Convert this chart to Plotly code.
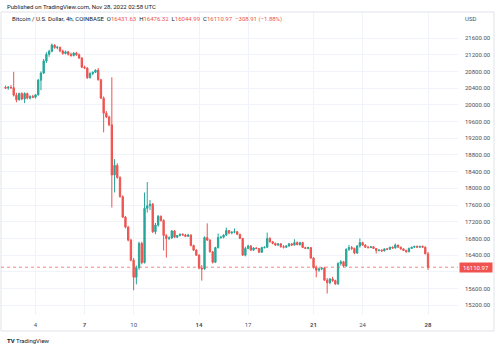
import pandas as pd
import plotly.graph_objects as go

# ---- data (BTC/USD 4h candles, Coinbase, Nov 2022) ----
first_candle = "2022-11-02 04:00"
opens = [20420,20400,20420,20410,20230,20120,20270,20140,20270,20160,20200,20180,20240,20590,20760,21050,21210,21280,21430,21370,
         21380,21290,21230,21270,21210,21180,21240,21200,21120,20900,20880,20650,20750,20780,20830,20600,20160,19800,19710,19520,
         18320,18550,18260,17800,17310,17070,16760,16280,15870,16100,16680,16220,17520,17580,17620,16960,17120,17330,17230,16870,
         16800,16810,16980,16830,16870,16900,16880,16850,16880,16630,16520,16400,16090,16070,16820,16760,16480,16230,16580,16820,
         16830,16880,16990,16930,16950,16960,16900,16800,16400,16560,16620,16520,16570,16560,16470,16580,16590,16800,16720,16680,
         16640,16670,16600,16590,16620,16670,16640,16700,16650,16700,16580,16560,16580,16330,16100,16040,16070,16090,15800,15740,
         15830,15790,15710,16200,16240,16140,16540,16580,16560,16450,16620,16700,16640,16590,16580,16600,16560,16510,16520,16500,
         16550,16540,16590,16570,16640,16590,16550,16510,16480,16560,16590,16610,16590,16610,16590,16431.63]
highs = [20460,20450,20470,20790,20290,20290,20300,20300,20290,20230,20240,20260,20620,20800,21100,21260,21320,21470,21450,21410,
         21390,21320,21300,21290,21250,21260,21270,21230,21140,20940,20900,20780,20800,20850,20880,20620,20200,19850,19740,20660,
         18700,18600,18290,17830,17340,17100,16790,16330,16150,16720,16720,17900,18150,17720,17650,17170,17360,17350,17260,16900,
         16850,17000,17000,16880,16920,16920,16910,16910,16900,16650,16540,16420,16160,16850,17160,16780,16500,16600,16920,16860,
         16900,17060,17000,16970,17040,16980,16910,16810,16600,16650,16640,16590,16590,16570,16600,16610,16940,16830,16740,16700,
         16680,16690,16640,16630,16690,16680,16780,16730,16720,16720,16600,16600,16590,16350,16150,16100,16110,16120,15850,15850,
         15880,15810,16230,16280,16260,16560,16640,16620,16580,16640,16800,16720,16660,16620,16620,16610,16570,16540,16540,16560,
         16570,16600,16610,16680,16650,16600,16560,16530,16580,16600,16620,16630,16620,16630,16610,16476.32]
lows = [20380,20360,20380,20200,20060,20100,20110,20040,20130,20130,20160,20150,20220,20350,20740,21000,21150,21260,21340,21330,
        21260,21200,21210,21180,21150,21160,21170,21100,20880,20860,20620,20630,20710,20760,20580,20140,19340,19680,19490,17540,
        17900,18230,17780,17290,17040,16730,16250,15560,15700,16050,16180,16200,17420,17480,16930,16900,17080,17200,16510,16340,
        16760,16790,16810,16810,16850,16870,16830,16840,16610,16500,16380,16060,15790,16050,16740,16460,16200,16210,16560,16790,
        16800,16860,16900,16900,16920,16880,16790,16380,16370,16540,16500,16500,16540,16450,16450,16560,16570,16700,16660,16620,
        16620,16580,16560,16570,16600,16620,16630,16640,16630,16570,16550,16540,16310,16080,15870,16000,16040,15780,15480,15700,
        15760,15690,15690,16150,16110,16120,16500,16520,16420,16430,16580,16620,16570,16560,16570,16550,16440,16490,16480,16490,
        16520,16530,16550,16560,16580,16530,16500,16460,16470,16550,16570,16580,16580,16580,16420,16044.99]
closes = [20400,20420,20410,20230,20120,20270,20140,20270,20160,20200,20180,20240,20590,20760,21050,21210,21280,21430,21370,21380,
          21290,21230,21270,21210,21180,21240,21200,21120,20900,20880,20650,20750,20780,20830,20600,20160,19800,19710,19520,18320,
          18550,18260,17800,17310,17070,16760,16280,15870,16100,16680,16220,17520,17580,17620,16960,17120,17330,17230,16870,16800,
          16810,16980,16830,16870,16900,16880,16850,16880,16630,16520,16400,16090,16070,16820,16760,16480,16230,16580,16820,16830,
          16880,16990,16930,16950,16960,16900,16800,16400,16560,16620,16520,16570,16560,16470,16580,16590,16800,16720,16680,16640,
          16670,16600,16590,16620,16670,16640,16700,16650,16700,16580,16560,16580,16330,16100,16040,16070,16090,15800,15740,15830,
          15790,15710,16200,16240,16140,16540,16580,16560,16450,16620,16700,16640,16590,16580,16600,16560,16510,16520,16500,16550,
          16540,16590,16570,16640,16590,16550,16510,16480,16560,16590,16610,16590,16610,16590,16431.63,16110.97]

last_price = 16110.97
change_text = "\u2212308.91 (\u22121.88%)"
day_ticks = ["2022-11-04", "2022-11-07", "2022-11-10", "2022-11-14", "2022-11-17",
             "2022-11-21", "2022-11-24", "2022-11-28"]
day_labels = ["4", "<b>7</b>", "10", "<b>14</b>", "17", "<b>21</b>", "24", "<b>28</b>"]
price_ticks = [15200, 15600, 16000, 16400, 16800, 17200, 17600, 18000, 18400,
               18800, 19200, 19600, 20000, 20400, 20800, 21200, 21600]
# 16000.00 sits under the last-price marker in the reference
price_labels = ["" if v == 16000 else "%.2f" % v for v in price_ticks]

times = pd.date_range(first_candle, periods=len(closes), freq="4h")

UP = "#26a69a"
DN = "#ef5350"
GRID = "#f0f3fa"
BORDER = "#e0e3eb"
TXT = "#131722"
AX = "#4a4e59"
FONT = "Roboto"

fig = go.Figure(go.Candlestick(
    x=times, open=opens, high=highs, low=lows, close=closes,
    increasing=dict(line=dict(color=UP, width=1), fillcolor=UP),
    decreasing=dict(line=dict(color=DN, width=1), fillcolor=DN),
    whiskerwidth=0, hoverinfo="skip", showlegend=False,
))

fig.update_layout(
    width=499, height=349,
    margin=dict(l=1, r=41, t=12, b=34, pad=0),
    paper_bgcolor="white", plot_bgcolor="white",
    font=dict(family=FONT, size=6, color=TXT),
    showlegend=False,
    xaxis=dict(
        type="date", range=["2022-11-01 21:22", "2022-11-29 20:00"],
        tickvals=day_ticks, ticktext=day_labels, tickangle=0,
        showgrid=True, gridcolor=GRID, gridwidth=1, zeroline=False,
        showline=False, ticks="", ticklabelstandoff=5,
        tickfont=dict(size=6, color=AX),
        rangeslider=dict(visible=False),
    ),
    yaxis=dict(
        side="right", range=[14966, 22223],
        tickvals=price_ticks, ticktext=price_labels,
        showgrid=True, gridcolor=GRID, gridwidth=1, zeroline=False,
        showline=False, ticks="", ticklabelstandoff=6,
        tickfont=dict(size=6, color=AX),
    ),
)

# pane / axis borders (paper coords; pane spans x 1..458, y 12..315 px)
def px_x(p):
    return (p - 1) / 457.0

def px_y(p):
    return (315 - p) / 303.0

shapes = [
    dict(type="line", xref="paper", yref="paper", x0=px_x(1), x1=px_x(494), y0=px_y(12), y1=px_y(12),
         line=dict(color=BORDER, width=1)),
    dict(type="line", xref="paper", yref="paper", x0=px_x(1), x1=px_x(494), y0=px_y(331), y1=px_y(331),
         line=dict(color=BORDER, width=1)),
    dict(type="line", xref="paper", yref="paper", x0=px_x(1), x1=px_x(1), y0=px_y(12), y1=px_y(331),
         line=dict(color=BORDER, width=1)),
    dict(type="line", xref="paper", yref="paper", x0=px_x(494), x1=px_x(494), y0=px_y(12), y1=px_y(331),
         line=dict(color=BORDER, width=1)),
    dict(type="line", xref="paper", yref="y", x0=0, x1=1, y0=last_price, y1=last_price,
         line=dict(color="rgba(239,83,80,0.7)", width=1, dash="dot")),
]
fig.update_layout(shapes=shapes)

red = lambda s: "<span style='color:%s'>%s</span>" % (DN, s)
legend_text = ("Bitcoin / U.S. Dollar, 4h, COINBASE  O" + red("%.2f" % opens[-1]) +
               "  H" + red("%.2f" % highs[-1]) + "  L" + red("%.2f" % lows[-1]) +
               "  C" + red("%.2f" % closes[-1]) + "  " + red(change_text))

annotations = [
    dict(text="Published on TradingView.com, Nov 28, 2022 02:58 UTC", xref="paper", yref="paper",
         x=px_x(5), y=px_y(7), xanchor="left", yanchor="middle", showarrow=False,
         font=dict(size=6, color=TXT, family=FONT)),
    dict(text=legend_text, xref="paper", yref="paper",
         x=px_x(10), y=px_y(19), xanchor="left", yanchor="middle", showarrow=False,
         font=dict(size=6, color=TXT, family=FONT)),
    dict(text="USD", xref="paper", yref="paper",
         x=px_x(463), y=px_y(19), xanchor="left", yanchor="middle", showarrow=False,
         font=dict(size=6, color=AX, family=FONT)),
    dict(text="%.2f" % last_price, xref="paper", yref="y",
         x=px_x(459), y=last_price, xanchor="left", yanchor="middle", showarrow=False,
         bgcolor=DN, width=32, height=9, align="center", borderpad=0,
         font=dict(size=6, color="white", family=FONT)),
    dict(text="<b>TV</b> TradingView", xref="paper", yref="paper",
         x=px_x(5), y=px_y(340), xanchor="left", yanchor="middle", showarrow=False,
         font=dict(size=6, color=TXT, family=FONT)),
]
fig.update_layout(annotations=annotations)

fig.write_html("out.html")
